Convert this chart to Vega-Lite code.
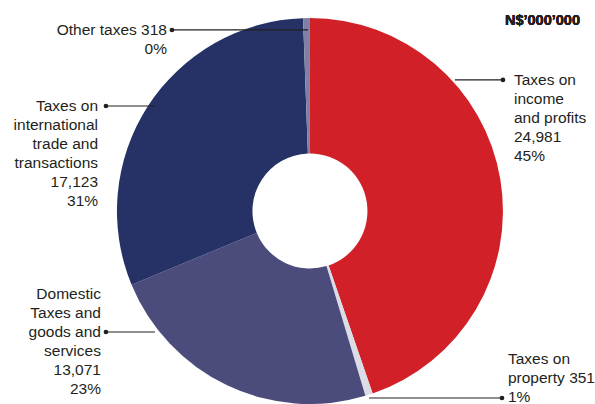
{
  "$schema": "https://vega.github.io/schema/vega-lite/v6.json",
  "width": 595,
  "height": 404,
  "autosize": "none",
  "padding": 0,
  "background": "white",
  "config": {"view": {"stroke": null}, "font": "Liberation Sans"},
  "data": {
    "values": [
      {"category": "Taxes on income and profits", "value": 24981, "label": "Taxes on\nincome\nand profits\n24,981\n45%", "dotx": 1.0, "doty": 0.679, "linex": 0.751, "tx": 1.057, "ty": 0.679},
      {"category": "Taxes on property", "value": 351, "label": "Taxes on\nproperty 351\n1%", "dotx": 0.995, "doty": -0.969, "linex": 0.306, "tx": 1.026, "ty": -0.762},
      {"category": "Domestic Taxes and goods and services", "value": 13071, "label": "Domestic\nTaxes and\ngoods and\nservices\n13,071\n23%", "dotx": -1.057, "doty": -0.627, "linex": -0.803, "tx": -1.083, "ty": -0.425},
      {"category": "Taxes on international trade and transactions", "value": 17123, "label": "Taxes on\ninternational\ntrade and\ntransactions\n17,123\n31%", "dotx": -1.057, "doty": 0.544, "linex": -0.803, "tx": -1.098, "ty": 0.549},
      {"category": "Other taxes", "value": 318, "label": "Other taxes 318\n0%", "dotx": -0.715, "doty": 0.938, "linex": -0.01, "tx": -0.741, "ty": 0.938}
    ]
  },
  "transform": [{"window": [{"op": "row_number", "as": "ord"}]}],
  "layer": [
    {
      "mark": {"type": "arc", "innerRadius": 57.5, "outerRadius": 193},
      "encoding": {
        "x": {"datum": 0, "type": "quantitative", "scale": {"domain": [-1.606, 1.477], "nice": false, "zero": false}, "axis": null},
        "y": {"datum": 0, "type": "quantitative", "scale": {"domain": [-1.0, 1.0933], "nice": false, "zero": false}, "axis": null},
        "theta": {"field": "value", "type": "quantitative", "stack": true},
        "order": {"field": "ord", "type": "quantitative"},
        "color": {
          "field": "category", "type": "nominal", "legend": null,
          "scale": {
            "domain": ["Taxes on income and profits", "Taxes on property", "Domestic Taxes and goods and services", "Taxes on international trade and transactions", "Other taxes"],
            "range": ["#d22028", "#dcdce6", "#4b4c7c", "#263265", "#8080a6"]
          }
        }
      }
    },
    {
      "mark": {"type": "rule", "strokeWidth": 1.2, "color": "#231f20"},
      "encoding": {
        "x": {"field": "dotx", "type": "quantitative", "scale": {"domain": [-1.606, 1.477], "nice": false, "zero": false}, "axis": null},
        "x2": {"field": "linex"},
        "y": {"field": "doty", "type": "quantitative", "scale": {"domain": [-1.0, 1.0933], "nice": false, "zero": false}, "axis": null}
      }
    },
    {
      "mark": {"type": "circle", "size": 22, "opacity": 1, "color": "#231f20"},
      "encoding": {
        "x": {"field": "dotx", "type": "quantitative", "scale": {"domain": [-1.606, 1.477], "nice": false, "zero": false}, "axis": null},
        "y": {"field": "doty", "type": "quantitative", "scale": {"domain": [-1.0, 1.0933], "nice": false, "zero": false}, "axis": null}
      }
    },
    {
      "transform": [{"filter": "datum.tx < 0"}],
      "mark": {"type": "text", "align": "right", "baseline": "top", "dy": -6.5, "lineBreak": "\n", "lineHeight": 19, "fontSize": 15.5, "color": "#231f20"},
      "encoding": {
        "x": {"field": "tx", "type": "quantitative", "scale": {"domain": [-1.606, 1.477], "nice": false, "zero": false}, "axis": null},
        "y": {"field": "ty", "type": "quantitative", "scale": {"domain": [-1.0, 1.0933], "nice": false, "zero": false}, "axis": null},
        "text": {"field": "label", "type": "nominal"}
      }
    },
    {
      "transform": [{"filter": "datum.tx > 0"}],
      "mark": {"type": "text", "align": "left", "baseline": "top", "dy": -6.5, "lineBreak": "\n", "lineHeight": 19, "fontSize": 15.5, "color": "#231f20"},
      "encoding": {
        "x": {"field": "tx", "type": "quantitative", "scale": {"domain": [-1.606, 1.477], "nice": false, "zero": false}, "axis": null},
        "y": {"field": "ty", "type": "quantitative", "scale": {"domain": [-1.0, 1.0933], "nice": false, "zero": false}, "axis": null},
        "text": {"field": "label", "type": "nominal"}
      }
    },
    {
      "mark": {"type": "text", "align": "right", "baseline": "middle", "fontSize": 14.5, "fontWeight": "bold", "color": "#231f20", "text": "N$’000’000"},
      "encoding": {
        "x": {"datum": 1.399, "type": "quantitative", "scale": {"domain": [-1.606, 1.477], "nice": false, "zero": false}, "axis": null},
        "y": {"datum": 0.984, "type": "quantitative", "scale": {"domain": [-1.0, 1.0933], "nice": false, "zero": false}, "axis": null}
      }
    }
  ]
}
